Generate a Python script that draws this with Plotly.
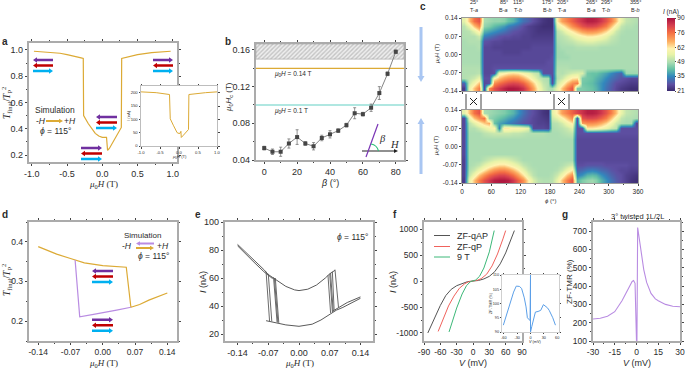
import plotly.graph_objects as go

W, H = 685, 369
SANS = "Liberation Sans"
SERIF = "Liberation Serif"
FRAME = "#ababab"
TICK = "#444444"
TXT = "#2b2b2b"
ORANGE = "#dcaa35"
LILAC = "#b98ce2"
PURPLE = "#7030a0"
RED = "#c00000"
CYAN = "#00b0f0"

# ---------- panel a ----------
a_field = [-0.97, -0.8, -0.6, -0.5, -0.4, -0.3, -0.27, -0.265, -0.2, -0.15, -0.1, -0.05, 0.0, 0.06, 0.075, 0.1, 0.15, 0.2, 0.27, 0.275, 0.35, 0.5, 0.7, 0.97]
a_ratio = [0.99, 0.985, 0.975, 0.965, 0.955, 0.94, 0.935, 0.5, 0.44, 0.4, 0.365, 0.345, 0.335, 0.335, 0.235, 0.25, 0.295, 0.34, 0.41, 0.935, 0.945, 0.965, 0.98, 0.99]
ai_field = [-1.0, -0.6, -0.25, -0.23, -0.15, -0.05, 0.0, 0.03, 0.05, 0.06, 0.1, 0.2, 0.25, 0.26, 0.5, 0.7, 1.0]
ai_current = [203, 200, 193, 102, 78, 50, 47, 48, 55, 32, 38, 55, 62, 193, 198, 200, 203]

# ---------- panel b ----------
b_beta = [0, 5, 10, 15, 20, 25, 30, 35, 40, 45, 50, 55, 60, 65, 70, 75, 80]
b_hc = [0.053, 0.049, 0.049, 0.058, 0.065, 0.058, 0.055, 0.064, 0.068, 0.072, 0.078, 0.091, 0.090, 0.097, 0.113, 0.134, 0.158]
b_err = [0.002, 0.003, 0.005, 0.005, 0.008, 0.002, 0.004, 0.003, 0.004, 0.002, 0.002, 0.006, 0.002, 0.004, 0.007, 0.002, 0.002]

# ---------- panel c ----------
c_phi = [5, 15, 25, 35, 45, 55, 65, 75, 85, 95, 105, 115, 125, 135, 145, 155, 165, 175, 185, 195, 205, 215, 225, 235, 245, 255, 265, 275, 285, 295, 305, 315, 325, 335, 345, 355]
c_field = [0.13, 0.11, 0.09, 0.07, 0.05, 0.03, 0.01, -0.01, -0.03, -0.05, -0.07, -0.09, -0.11, -0.13]
c_top = [
 [55,66,76,80,48,47,46,46,45,42,40,36,32,30,27,25,23,22,22,62,70,74,78,82,85,88,88,87,84,80,74,66,56,51,50,49],
 [50,56,66,73,46,44,41,39,37,34,32,30,27,25,24,23,22,22,22,55,60,66,72,76,80,82,82,81,78,74,66,58,51,49,49,48],
 [49,50,55,62,40,38,36,34,32,30,28,27,26,25,24,23,23,23,23,50,53,58,62,66,70,72,72,71,68,64,58,52,49,48,48,48],
 [49,49,49,52,34,32,30,28,27,27,26,26,25,25,24,24,24,24,24,49,50,52,55,58,60,62,62,61,59,56,52,50,48,48,48,48],
 [48,49,49,49,28,27,26,26,25,25,25,25,25,25,25,25,25,25,25,48,49,50,51,53,54,55,55,54,53,52,50,49,48,48,48,48],
 [48,48,48,49,26,26,25,25,25,25,25,25,25,25,26,26,26,26,26,47,48,48,48,49,49,49,49,49,48,48,48,48,48,48,48,48],
 [48,48,48,48,26,26,26,26,25,25,25,25,26,26,26,26,26,26,26,47,47,48,48,48,48,48,48,48,48,48,48,48,48,48,48,48],
 [48,48,48,48,26,26,26,26,26,26,26,26,26,26,26,26,26,26,27,47,47,47,48,48,48,48,48,48,48,48,48,48,48,48,48,48],
 [48,48,48,48,26,26,26,26,26,26,26,26,26,26,26,26,26,27,27,48,48,48,48,48,48,48,48,48,48,48,48,48,48,48,48,48],
 [49,49,49,49,26,26,27,27,27,27,27,27,27,27,27,27,27,27,27,49,49,49,48,48,48,48,48,48,48,48,48,48,48,48,48,48],
 [49,49,49,50,26,26,27,58,60,62,63,62,59,56,52,50,27,27,27,50,49,51,53,54,54,43,42,42,40,38,35,32,30,47,47,47],
 [49,50,52,56,27,27,60,66,70,72,73,72,68,63,57,52,49,48,26,49,52,57,62,63,44,43,42,40,38,35,32,30,28,27,26,26],
 [30,52,58,66,26,27,72,76,79,81,82,81,78,72,65,57,51,49,27,52,58,66,72,74,43,42,41,39,36,33,30,27,26,25,24,24],
 [24,56,66,74,26,72,80,84,87,89,89,88,85,78,70,60,53,49,48,56,66,74,80,44,44,43,42,40,36,32,29,26,24,23,22,22],
]
c_bottom = [
 [55,66,76,80,48,47,46,45,44,42,40,36,32,29,27,25,23,22,55,62,70,74,78,82,85,88,88,87,84,80,74,66,56,51,50,49],
 [26,56,66,72,76,46,44,42,40,38,36,33,30,28,26,25,24,23,52,55,60,66,72,27,80,82,82,81,78,74,66,58,51,49,49,48],
 [26,50,55,60,65,68,42,38,36,34,32,30,28,27,26,25,25,24,49,50,53,58,62,27,70,72,72,71,68,64,58,52,49,48,48,26],
 [26,49,49,52,55,58,60,34,62,62,60,60,58,55,26,26,26,25,48,49,50,52,55,27,27,62,62,61,59,56,52,50,27,27,27,27],
 [26,48,48,48,50,51,52,52,52,52,51,51,50,49,49,49,49,48,48,48,49,50,51,27,27,27,27,27,27,27,27,27,27,27,27,27],
 [26,48,48,48,48,48,48,48,48,48,48,48,48,48,48,48,48,48,48,48,48,48,48,26,26,26,26,26,26,26,26,26,26,26,26,26],
 [26,48,48,48,48,48,48,48,48,48,48,48,48,48,48,48,48,48,48,48,48,48,48,26,26,26,26,26,26,26,26,26,26,26,26,26],
 [26,48,48,48,48,48,48,48,48,48,48,48,48,48,48,48,48,48,48,48,48,48,48,26,26,26,26,26,26,26,26,26,26,26,26,26],
 [26,48,48,48,48,48,48,48,48,48,48,48,48,48,48,48,48,48,48,48,48,48,48,26,26,26,26,26,26,26,26,26,26,26,26,26],
 [25,48,48,48,50,52,54,55,55,54,52,50,48,48,48,48,48,48,48,48,48,48,48,26,26,26,26,26,26,26,26,26,26,26,26,26],
 [25,48,49,51,55,58,61,63,63,61,58,55,51,49,48,48,48,48,48,48,49,51,53,27,27,28,28,28,28,27,27,27,27,27,26,26],
 [25,49,52,57,62,67,71,73,73,71,67,62,56,51,49,48,48,48,48,49,52,57,62,30,31,33,34,33,31,30,28,27,26,26,25,25],
 [25,51,58,66,72,77,80,82,82,80,76,70,63,55,50,48,48,48,49,52,58,66,72,34,36,40,41,40,36,33,30,28,27,25,24,23],
 [24,56,66,74,80,84,88,89,89,88,84,78,72,62,54,50,49,49,50,56,66,74,80,40,44,46,47,45,40,36,32,29,27,25,23,22],
]
assert all(len(r) == len(c_phi) for r in c_top + c_bottom)
c_ticks = [21, 35, 49, 62, 76, 90]
c_mark_phi = [25, 85, 115, 175, 205, 265, 295, 355]
c_mark_color = ["#b57edc", "#e0a020", "#2a7de1", "#3cb878", "#b57edc", "#e0a020", "#2a7de1", "#3cb878"]
c_mark_deg = ["25°", "85°", "115°", "175°", "205°", "265°", "295°", "355°"]
c_mark_name = ["T-<i>a</i>", "B-<i>a</i>", "T-<i>b</i>", "B-<i>b</i>", "T-<i>a</i>", "B-<i>a</i>", "T-<i>b</i>", "B-<i>b</i>"]

# ---------- panel d ----------
d_up_field = [-0.14, -0.12, -0.10, -0.07, -0.06, -0.04, 0.0, 0.03, 0.051, 0.061, 0.08, 0.10, 0.12, 0.14]
d_up_ratio = [0.388, 0.378, 0.369, 0.358, 0.354, 0.347, 0.34, 0.337, 0.336, 0.235, 0.242, 0.253, 0.262, 0.271]
d_down_field = [-0.06, -0.05, -0.02, 0.0, 0.03, 0.061]
d_down_ratio = [0.354, 0.211, 0.217, 0.222, 0.228, 0.235]

# ---------- panel e ----------
e_upper_field = [-0.14, -0.12, -0.10, -0.08, -0.07, -0.05, -0.03, -0.01, 0.0, 0.02, 0.04, 0.06, 0.07, 0.082]
e_upper_cur = [84, 78, 72.5, 66, 62.5, 58, 54, 51.5, 51, 52, 55, 60, 63, 65.5]
e_upper2_field = [-0.14, -0.12, -0.10, -0.08, -0.06]
e_upper2_cur = [83, 76.5, 70.5, 64.5, 59.5]
e_lower_field = [-0.075, -0.05, -0.03, 0.0, 0.03, 0.05, 0.07, 0.085, 0.10, 0.12, 0.14]
e_lower_cur = [29.5, 28, 26.5, 25.5, 27, 30, 34, 37, 39, 42.5, 45.5]
e_lower2_field = [0.075, 0.09, 0.11, 0.14]
e_lower2_cur = [36, 39, 42.5, 46.5]
e_left_top_field = [-0.075, -0.070, -0.058, -0.056, -0.054]
e_left_top_cur = [64.5, 63, 60.5, 60, 60]
e_left_bot_field = [-0.067, -0.062, -0.050, -0.048, -0.046]
e_left_bot_cur = [29, 29, 28.5, 28, 28]
e_right_top_field = [0.066, 0.070, 0.072, 0.076, 0.082]
e_right_top_cur = [62, 63, 63.5, 64.5, 66]
e_right_bot_field = [0.072, 0.076, 0.078, 0.080, 0.090]
e_right_bot_cur = [35, 36, 36, 37, 39]

# ---------- panel f ----------
f_v_qap = [-83, -70, -60, -50, -40, -30, -20, -10, 0, 10, 20, 30, 40, 50, 60, 70, 76]
f_i_qap = [-1000, -700, -470, -280, -160, -90, -45, -12, 0, 10, 40, 90, 180, 330, 540, 800, 970]
f_v_qp = [-64, -55, -45, -35, -25, -15, -8, 0, 8, 15, 25, 35, 45, 55, 60]
f_i_qp = [-970, -720, -480, -290, -140, -50, -15, 0, 15, 45, 130, 290, 520, 810, 970]
f_v_9t = [-44, -38, -30, -20, -12, -5, 0, 5, 12, 20, 30, 39]
f_i_9t = [-980, -780, -520, -250, -90, -15, 0, 20, 90, 250, 560, 970]
fi_v = [-61, -48, -38, -32, -25, -20, -14, -10, -7, -4, -1, 0, 0, 3, 5, 11, 17, 23, 29, 38, 42, 50, 56]
fi_tmr = [92.4, 99.4, 104, 106.1, 106, 105.3, 102, 98.8, 95, 94.5, 94, 110, 90, 92, 93.5, 97, 97.2, 97.6, 99.6, 98.5, 97.6, 95, 92.4]

# ---------- panel g ----------
g_v = [-30, -25, -20, -15, -10, -7, -5, -3, -2, -1, 0, 0.3, 0.8, 2, 3, 5, 7, 10, 13, 15, 20, 25, 30]
g_tmr = [220, 224, 235, 260, 320, 365, 395, 425, 430, 415, 100, 100, 720, 650, 590, 490, 420, 360, 330, 320, 300, 290, 287]

fig = go.Figure()
layout = {}
annos = []
shapes = []


def px(x):
    return x / W


def py(y):
    return 1 - y / H


def label(x, y, text, size=8, font=SANS, angle=0, color=TXT, xanchor="center", yanchor="middle"):
    annos.append(dict(x=px(x), y=py(y), xref="paper", yref="paper", text=text, showarrow=False,
                      textangle=angle, xanchor=xanchor, yanchor=yanchor,
                      font=dict(family=font, size=size, color=color)))


def arrow(x0, x1, y, color, thick=2.4, head=5.5, hl=4.0):
    """Horizontal arrow drawn as a filled polygon, pixel positions from the top-left."""
    d = 1 if x1 > x0 else -1
    b = x1 - d * hl
    pts = [(x0, y - thick / 2), (b, y - thick / 2), (b, y - head / 2), (x1, y), (b, y + head / 2), (b, y + thick / 2), (x0, y + thick / 2)]
    path = "M " + " L ".join(f"{px(a)} {py(c)}" for a, c in pts) + " Z"
    shapes.append(dict(type="path", xref="paper", yref="paper", path=path, fillcolor=color, line=dict(width=0)))


def varrow(x, y0, y1, color, thick=3.0, head=7.0, hl=6.0):
    d = 1 if y1 > y0 else -1
    b = y1 - d * hl
    pts = [(x - thick / 2, y0), (x - thick / 2, b), (x - head / 2, b), (x, y1), (x + head / 2, b), (x + thick / 2, b), (x + thick / 2, y0)]
    path = "M " + " L ".join(f"{px(a)} {py(c)}" for a, c in pts) + " Z"
    shapes.append(dict(type="path", xref="paper", yref="paper", path=path, fillcolor=color, line=dict(width=0)))


def seg(x0, y0, x1, y1, color=TXT, width=1.0):
    shapes.append(dict(type="line", xref="paper", yref="paper", x0=px(x0), x1=px(x1), y0=py(y0), y1=py(y1),
                       line=dict(color=color, width=width)))


def fmt(vals, f):
    return [f.format(v) for v in vals]


def axes(n, box, xr, yr, xt, yt, xl, yl, size=9, xminor=None, yminor=None, frame=FRAME, fw=1.5, tl=2.5, mirror="ticks"):
    x0, x1, y0, y1 = box
    s = "" if n == 1 else str(n)
    layout["xaxis" + s] = dict(domain=[px(x0), px(x1)], range=xr, anchor="y" + s, tickmode="array", tickvals=xt, ticktext=xl,
                               showticklabels=xl is not None,
                               showgrid=False, zeroline=False, showline=True, linecolor=frame, linewidth=fw,
                               mirror=mirror, ticks="outside", ticklen=tl, tickwidth=0.8, tickcolor=TICK,
                               tickfont=dict(family=SANS, size=size, color=TXT), layer="above traces",
                               minor=dict(dtick=xminor, tick0=0, ticks="outside", ticklen=tl * 0.6, tickwidth=0.7, tickcolor=TICK) if xminor else None)
    layout["yaxis" + s] = dict(domain=[py(y1), py(y0)], range=yr, anchor="x" + s, tickmode="array", tickvals=yt, ticktext=yl,
                               showgrid=False, zeroline=False, showline=True, linecolor=frame, linewidth=fw,
                               mirror=mirror, ticks="outside", ticklen=tl, tickwidth=0.8, tickcolor=TICK,
                               tickfont=dict(family=SANS, size=size, color=TXT), layer="above traces",
                               minor=dict(dtick=yminor, tick0=0, ticks="outside", ticklen=tl * 0.6, tickwidth=0.7, tickcolor=TICK) if yminor else None)
    return "x" + s, "y" + s


def line(xa, ya, x, y, color, width=1.2):
    fig.add_trace(go.Scatter(x=x, y=y, mode="lines", xaxis=xa, yaxis=ya, showlegend=False, hoverinfo="skip",
                             line=dict(color=color, width=width)))


def cover(xa, ya, xr, yr):
    fig.add_trace(go.Scatter(x=[xr[0], xr[1], xr[1], xr[0], xr[0]], y=[yr[0], yr[0], yr[1], yr[1], yr[0]], mode="none",
                             fill="toself", fillcolor="white", xaxis=xa, yaxis=ya, showlegend=False, hoverinfo="skip"))


MU0H = "<i>μ</i><sub>0</sub><i>H</i> (T)"
TICK14 = [-0.14, -0.07, 0.0, 0.07, 0.14]
LET = 10

# ---------- a ----------
xa, ya = axes(1, (29, 177, 43, 162), [-1.04, 1.06], [0.147, 1.053], [-1, -0.5, 0, 0.5, 1], [0.2, 0.4, 0.6, 0.8, 1.0],
              ["-1.0", "-0.5", "0.0", "0.5", "1.0"], ["0.2", "0.4", "0.6", "0.8", "1.0"], 9, 0.25, 0.1)
line(xa, ya, a_field, a_ratio, ORANGE)
label(103, 185, MU0H, 9, SERIF)
label(6, 103, "<i>T</i><sub>final</sub>/<i>T</i><sub>P</sub><sup>2</sup>", 9.5, SERIF, -90)
label(0, 41, "<b>a</b>", LET, xanchor="left")
for (x0, x1, ys, dirs) in [(33, 53, (60, 65.5, 71), "llr"), (153, 173, (60, 65.5, 71), "rlr"),
                           (96, 117, (117, 122.5, 128), "llr"), (81, 102, (148, 153.5, 159), "rlr")]:
    for y, c, d in zip(ys, (PURPLE, RED, CYAN), dirs):
        arrow(x0, x1, y, c) if d == "r" else arrow(x1, x0, y, c)
label(55, 110, "Simulation", 8.5)
label(41, 121, "-<i>H</i>", 8.5)
arrow(46, 63, 121, ORANGE, 1.8, 4.5, 4)
label(70, 121, "+<i>H</i>", 8.5)
label(55, 131, "<i>ϕ</i> = 115°", 8.5)

# inset a
box = (141, 217, 86, 146)
xa, ya = axes(2, box, [-1, 1], [0, 225], [-1, -0.5, 0, 0.5, 1], [0, 50, 100, 150, 200],
              ["-1.0", "-0.5", "0.0", "0.5", "1.0"], ["0", "50", "100", "150", "200"], 4.2, frame="#bdbdbd", fw=1, tl=1.5)
cover(xa, ya, [-1, 1], [0, 225])
line(xa, ya, ai_field, ai_current, ORANGE, 1)
label(179, 157, "<i>μ</i><sub>0</sub><i>H</i> (T)", 4.2)
label(129, 116, "<i>I</i> (nA)", 4.2, angle=-90)

# ---------- b ----------
xa, ya = axes(3, (256, 404, 44, 160), [-5, 85], [0.04, 0.1665], [0, 20, 40, 60, 80], [0.04, 0.08, 0.12, 0.16],
              ["0", "20", "40", "60", "80"], ["0.04", "0.08", "0.12", "0.16"], 9, 10, 0.02)
fig.add_trace(go.Scatter(x=[-5, 85, 85, -5, -5], y=[0.15, 0.15, 0.1665, 0.1665, 0.15], mode="lines", fill="toself",
                         line=dict(color="#999999", width=0.5), fillcolor="rgba(255,255,255,0)",
                         fillpattern=dict(shape="/", fgcolor="#9a9a9a", bgcolor="#eeeeee", size=3, solidity=0.45),
                         xaxis=xa, yaxis=ya, showlegend=False, hoverinfo="skip"))
line(xa, ya, [-5, 85], [0.14, 0.14], ORANGE, 1.2)
line(xa, ya, [-5, 85], [0.1, 0.1], "#62d0c4", 1.2)
fig.add_trace(go.Scatter(x=b_beta, y=b_hc, mode="lines+markers", xaxis=xa, yaxis=ya, showlegend=False,
                         line=dict(color="#777777", width=0.9), marker=dict(symbol="square", size=4, color="#454545"),
                         error_y=dict(type="data", array=b_err, color="#666666", thickness=0.7, width=1.5)))
label(272, 74, "<i>μ</i><sub>0</sub><i>H</i> = 0.14 T", 6.5, xanchor="left")
label(272, 111, "<i>μ</i><sub>0</sub><i>H</i> = 0.1 T", 6.5, xanchor="left")
label(330, 183, "<i>β</i> (°)", 9)
label(229, 97, "<i>μ</i><sub>0</sub><i>H</i><sub>c</sub> (T)", 8, angle=-90)
label(223, 41, "<b>b</b>", LET, xanchor="left")
arrow(362, 398, 151, "#222222", 1.0, 4, 4)
seg(366, 157, 378, 124, "#7a35b5", 1.2)
shapes.append(dict(type="path", xref="paper", yref="paper",
                   path=f"M {px(371)} {py(144)} Q {px(377)} {py(145)} {px(378.5)} {py(151)}",
                   line=dict(color="#2fc07a", width=1.1)))
label(382, 138, "<i>β</i>", 10.5, SERIF)
label(395, 144, "<i>H</i>", 10.5, SERIF)

# ---------- c ----------
CMAP = [[0, "#3a2a6e"], [0.09, "#5e4fa2"], [0.2, "#3288bd"], [0.3, "#66c2a5"], [0.39, "#aadcb2"], [0.5, "#e8f3a8"],
        [0.58, "#fff3b0"], [0.68, "#fdae61"], [0.8, "#f46d43"], [0.9, "#d53e4f"], [1, "#a8123e"]]
layout["coloraxis"] = dict(cmin=21, cmax=90, colorscale=CMAP,
                           colorbar=dict(thickness=8, lenmode="pixels", len=73, xanchor="left", x=px(667), yanchor="top", y=py(18),
                                         xpad=0, ypad=0, outlinewidth=0, tickmode="array", tickvals=c_ticks,
                                         ticktext=[str(v) for v in c_ticks], ticks="outside", ticklen=1.5, tickwidth=0.6,
                                         tickfont=dict(family=SANS, size=6.5, color=TXT)))
PHI = [0, 60, 120, 180, 240, 300, 360]
xa, ya = axes(4, (462, 638, 18, 91), [0, 360], [-0.14, 0.14], PHI, TICK14, None, fmt(TICK14, "{:.2f}"), 6.5, 30, None, frame="#9a9a9a", fw=1, tl=2, mirror=True)
fig.add_trace(go.Heatmap(x=c_phi, y=c_field, z=c_top, coloraxis="coloraxis", zsmooth="best", xaxis=xa, yaxis=ya, hoverinfo="skip"))
fig.add_trace(go.Scatter(x=c_mark_phi, y=[0.1515] * 8, mode="markers", cliponaxis=False, xaxis=xa, yaxis=ya, showlegend=False,
                         marker=dict(symbol="triangle-down", size=6, color=c_mark_color)))
xb, yb = axes(5, (462, 638, 110, 183), [0, 360], [-0.14, 0.14], PHI, TICK14, [str(v) for v in PHI], fmt(TICK14, "{:.2f}"), 6.5, 30, None, frame="#9a9a9a", fw=1, tl=2, mirror=True)
fig.add_trace(go.Heatmap(x=c_phi, y=c_field, z=c_bottom, coloraxis="coloraxis", zsmooth="best", xaxis=xb, yaxis=yb, hoverinfo="skip"))
for phi, deg, name in zip(c_mark_phi, c_mark_deg, c_mark_name):
    xp = 462 + phi / 360 * 176
    label(xp, 2.5, deg, 5.5)
    label(xp, 10, name, 5.5)
label(418, 7, "<b>c</b>", LET, xanchor="left")
label(437, 54, "<i>μ</i><sub>0</sub><i>H</i> (T)", 6, angle=-90)
label(437, 146, "<i>μ</i><sub>0</sub><i>H</i> (T)", 6, angle=-90)
label(550, 201, "<i>ϕ</i> (°)", 6)
label(671, 12, "<i>I</i> (nA)", 6.5)
varrow(421, 27, 82, "#a9c6f2")
varrow(421, 174, 118, "#a9c6f2")
for x0, x1 in [(466, 481), (554, 569)]:
    seg(x0, 94, x0, 109, "#444444", 1)
    seg(x1, 94, x1, 109, "#444444", 1)
    seg(x0 + 4, 98, x1 - 4, 105, "#222222", 1)
    seg(x0 + 4, 105, x1 - 4, 98, "#222222", 1)

# ---------- d ----------
xa, ya = axes(6, (29, 177, 222, 341), [-0.16, 0.161], [0.15, 0.45], TICK14, [0.2, 0.3, 0.4], fmt(TICK14, "{:.2f}"), ["0.2", "0.3", "0.4"], 8.5, 0.035, 0.05)
line(xa, ya, d_up_field, d_up_ratio, ORANGE)
line(xa, ya, d_down_field, d_down_ratio, LILAC)
label(103, 363, MU0H, 9, SERIF)
label(6, 280, "<i>T</i><sub>final</sub>/<i>T</i><sub>P</sub><sup>2</sup>", 9.5, SERIF, -90)
label(0, 215, "<b>d</b>", LET, xanchor="left")
for ys, dirs in [((271, 276.5, 282), "llr"), ((319.7, 325.3, 330.7), "rlr")]:
    for y, c, d in zip(ys, (PURPLE, RED, CYAN), dirs):
        arrow(92, 113, y, c) if d == "r" else arrow(113, 92, y, c)
label(142, 235, "Simulation", 8)
label(127, 245.5, "-<i>H</i>", 8.5)
arrow(154, 136, 243.5, LILAC, 1.8, 4.5, 4)
arrow(136, 154, 248, ORANGE, 1.8, 4.5, 4)
label(163, 245.5, "+<i>H</i>", 8.5)
label(153, 256, "<i>ϕ</i> = 115°", 8.5)

# ---------- e ----------
xa, ya = axes(7, (225, 373, 222, 341), [-0.1686, 0.1686], [15, 100], TICK14, [20, 40, 60, 80, 100], fmt(TICK14, "{:.2f}"), ["20", "40", "60", "80", "100"], 9, 0.035, 10)
EC = "#5a5a5a"
line(xa, ya, e_upper_field, e_upper_cur, EC, 1)
line(xa, ya, e_upper2_field, e_upper2_cur, EC, 1)
line(xa, ya, e_lower_field, e_lower_cur, EC, 1)
line(xa, ya, e_lower2_field, e_lower2_cur, EC, 1)
for i in range(5):
    line(xa, ya, [e_left_top_field[i], e_left_bot_field[i]], [e_left_top_cur[i], e_left_bot_cur[i]], EC, 0.9)
    line(xa, ya, [e_right_top_field[i], e_right_bot_field[i]], [e_right_top_cur[i], e_right_bot_cur[i]], EC, 0.9)
label(299, 363, MU0H, 9, SERIF)
label(203, 282, "<i>I</i> (nA)", 9, angle=-90)
label(193, 215, "<b>e</b>", LET, xanchor="left")
label(353, 237, "<i>ϕ</i> = 115°", 8.5)

# ---------- f ----------
VT = [-90, -60, -30, 0, 30, 60, 90]
IT = [-1000, -500, 0, 500, 1000]
xa, ya = axes(8, (424, 522, 222, 341), [-90, 90], [-1154, 1135], VT, IT, [str(v) for v in VT], [str(v) for v in IT], 8.5, None, 250)
F_BK, F_RD, F_GR = "#555555", "#f0625c", "#3cb878"
line(xa, ya, f_v_qap, f_i_qap, F_BK, 1)
line(xa, ya, f_v_qp, f_i_qp, F_RD, 1)
line(xa, ya, f_v_9t, f_i_9t, F_GR, 1)
for y, c, t in [(235.5, F_BK, "ZF-qAP"), (246.5, F_RD, "ZF-qP"), (257, F_GR, "9 T")]:
    seg(434, y, 450, y, c, 1)
    label(455, y, t, 9, xanchor="left")
label(473, 363, "<i>V</i> (mV)", 9)
label(393, 282, "<i>I</i> (nA)", 9, angle=-90)
label(391, 215, "<b>f</b>", LET, xanchor="left")

# inset f
xa, ya = axes(9, (502, 559, 275, 332), [-64, 64], [90, 110], [-60, -30, 0, 30, 60], [90, 95, 100, 105, 110],
              ["-60", "-30", "0", "30", "60"], ["90", "95", "100", "105", "110"], 3.8, frame="#cfcfcf", fw=1, tl=1.2)
cover(xa, ya, [-64, 64], [90, 110])
line(xa, ya, fi_v, fi_tmr, "#5b9fe8", 1)
label(527, 342, "<i>V</i> (mV)", 3.8, xanchor="left")
label(491, 303, "ZF-TMR (%)", 3.8, angle=-90)

# ---------- g ----------
GX = [-30, -15, 0, 15, 30]
GY = [100, 200, 300, 400, 500, 600, 700]
xa, ya = axes(10, (593, 680, 222, 341), [-30, 30], [100, 750], GX, GY, [str(v) for v in GX], [str(v) for v in GY], 8.5, 7.5, 50)
line(xa, ya, g_v, g_tmr, LILAC, 1.1)
label(637, 216, "3° twisted 1L/2L", 7.5)
label(637, 363, "<i>V</i> (mV)", 9)
label(569, 282, "ZF-TMR (%)", 8, angle=-90)
label(560, 215, "<b>g</b>", LET, xanchor="left")

fig.update_layout(width=W, height=H, margin=dict(l=0, r=0, t=0, b=0, pad=0, autoexpand=False), paper_bgcolor="white", plot_bgcolor="white",
                  showlegend=False, annotations=annos, shapes=shapes, **layout)
fig.write_html("out.html",
               post_script="document.documentElement.style.margin='0';document.body.style.margin='0';document.body.style.padding='0';"
                           "var g=document.getElementById('{plot_id}');g.style.position='fixed';g.style.left='0px';g.style.top='0px';",
               config={"displayModeBar": False})
